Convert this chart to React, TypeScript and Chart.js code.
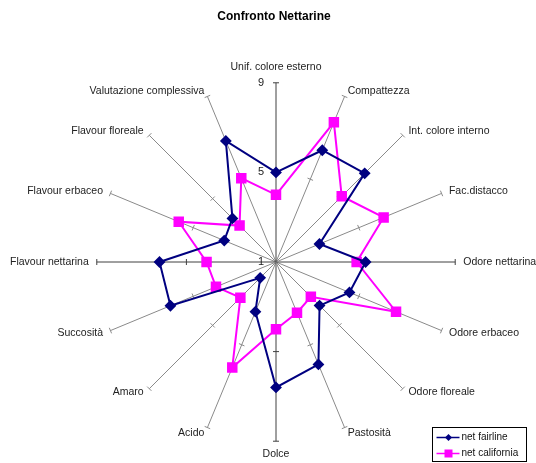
import React, { useEffect, useRef } from "react";
import { Chart, registerables } from "chart.js";

Chart.register(...registerables);

const categories = [
  "Unif. colore esterno",
  "Compattezza",
  "Int. colore interno",
  "Fac.distacco",
  "Odore nettarina",
  "Odore erbaceo",
  "Odore floreale",
  "Pastosità",
  "Dolce",
  "Acido",
  "Amaro",
  "Succosità",
  "Flavour nettarina",
  "Flavour erbaceo",
  "Flavour floreale",
  "Valutazione complessiva",
];

const netFairline = [5.0, 6.4, 6.6, 3.1, 5.0, 4.55, 3.75, 5.95, 6.6, 3.4, 2.0, 6.1, 6.2, 3.5, 3.75, 6.85];
const netCalifornia = [4.0, 7.75, 5.15, 6.2, 4.6, 6.8, 3.2, 3.45, 4.0, 6.1, 3.25, 3.9, 4.1, 5.7, 3.3, 5.05];

const seriesNames = ["net fairline", "net california"];
const tickValues = [1, 5, 9];

const FONT = "'Liberation Sans', Arial, sans-serif";

const decorPlugin = {
  id: "decor",
  afterLayout(chart: any) {
    const scale = chart.scales.r;
    const items = scale._pointLabelItems;
    if (!items) return;
    items.forEach((item: any, i: number) => {
      const a = scale.getIndexAngle(i);
      const end = scale.getPointPositionForValue(i, scale.max);
      const w = item.right - item.left;
      const h = item.bottom - item.top;
      const s = Math.sin(a);
      const c = Math.cos(a);
      let cy: number;
      if (Math.abs(s) < 1e-6) {
        cy = c > 0 ? end.y - 16 : end.y + 13;
      } else {
        cy = end.y - c * 5.5;
      }
      const gap = 8 * Math.abs(s);
      let x = end.x;
      if (item.textAlign === "left") x = end.x + gap;
      else if (item.textAlign === "right") x = end.x - gap;
      item.x = x;
      item.y = cy - h / 2;
      item.top = item.y;
      item.bottom = item.y + h;
      if (item.textAlign === "left") { item.left = x; item.right = x + w; }
      else if (item.textAlign === "right") { item.left = x - w; item.right = x; }
      else { item.left = x - w / 2; item.right = x + w / 2; }
    });
  },
  beforeDatasetsDraw(chart: any) {
    const scale = chart.scales.r;
    const ctx = chart.ctx;
    const n = chart.data.labels.length;
    ctx.save();
    ctx.lineWidth = 1;
    for (let i = 0; i < n; i++) {
      const isMain = i % 4 === 0;
      ctx.strokeStyle = isMain ? "#404040" : "#8a8a8a";
      const ang = scale.getIndexAngle(i) - Math.PI / 2;
      const px = -Math.sin(ang);
      const py = Math.cos(ang);
      for (const v of [5, 9]) {
        const p = scale.getPointPositionForValue(i, v);
        ctx.beginPath();
        ctx.moveTo(p.x - px * 3, p.y - py * 3);
        ctx.lineTo(p.x + px * 3, p.y + py * 3);
        ctx.stroke();
      }
    }
    ctx.fillStyle = "#222";
    ctx.font = `11px ${FONT}`;
    ctx.textAlign = "right";
    ctx.textBaseline = "middle";
    for (const v of tickValues) {
      const p = scale.getPointPositionForValue(0, v);
      ctx.fillText(String(v), p.x - 12, p.y);
    }
    ctx.restore();
  },
  afterDraw(chart: any) {
    const ctx = chart.ctx;
    const ds = chart.data.datasets;
    const x0 = 432.5, y0 = 427.5, w = 94, h = 34;
    ctx.save();
    ctx.fillStyle = "#fff";
    ctx.fillRect(x0, y0, w, h);
    ctx.strokeStyle = "#000";
    ctx.lineWidth = 1;
    ctx.strokeRect(x0, y0, w, h);
    ctx.font = `10px ${FONT}`;
    ctx.textBaseline = "middle";
    ctx.textAlign = "left";
    ds.forEach((d: any, i: number) => {
      const y = y0 + 10 + i * 16;
      ctx.strokeStyle = d.borderColor;
      ctx.lineWidth = 1.5;
      ctx.beginPath();
      ctx.moveTo(x0 + 4, y);
      ctx.lineTo(x0 + 27, y);
      ctx.stroke();
      ctx.fillStyle = d.borderColor;
      const cx = x0 + 16;
      if (d.pointStyle === "rectRot") {
        ctx.beginPath();
        ctx.moveTo(cx - 3.5, y);
        ctx.lineTo(cx, y - 3.5);
        ctx.lineTo(cx + 3.5, y);
        ctx.lineTo(cx, y + 3.5);
        ctx.closePath();
        ctx.fill();
      } else {
        ctx.fillRect(cx - 4, y - 4, 8, 8);
      }
      ctx.fillStyle = "#111";
      ctx.fillText(d.label, x0 + 29, y);
    });
    ctx.restore();
  },
};

export default function App() {
  const ref = useRef<HTMLCanvasElement>(null);
  useEffect(() => {
    if (!ref.current) return;
    const chart = new Chart(ref.current, {
      type: "radar",
      data: {
        labels: categories,
        datasets: [
          {
            label: seriesNames[0],
            data: netFairline,
            borderColor: "#000080",
            backgroundColor: "#000080",
            pointBackgroundColor: "#000080",
            pointBorderColor: "#000080",
            pointStyle: "rectRot",
            pointRadius: 4.5,
            borderWidth: 2,
            fill: false,
          },
          {
            label: seriesNames[1],
            data: netCalifornia,
            borderColor: "#FF00FF",
            backgroundColor: "#FF00FF",
            pointBackgroundColor: "#FF00FF",
            pointBorderColor: "#FF00FF",
            pointStyle: "rect",
            pointRadius: 6,
            borderWidth: 2,
            fill: false,
          },
        ],
      },
      options: {
        responsive: false,
        animation: false,
        layout: { padding: { left: 11, right: -1, top: 0, bottom: 0 } },
        plugins: {
          legend: { display: false },
          tooltip: { enabled: false },
          title: {
            display: true,
            text: "Confronto Nettarine",
            color: "#000",
            font: { family: FONT, size: 12, weight: "bold" },
            padding: { top: 9, bottom: 38 },
          },
        },
        scales: {
          r: {
            min: 1,
            max: 9,
            ticks: { display: false, stepSize: 4 },
            grid: { display: false },
            angleLines: {
              display: true,
              color: (ctx: any) => (ctx.index % 4 === 0 ? "#404040" : "#8a8a8a"),
              lineWidth: 1,
            },
            pointLabels: {
              display: true,
              color: "#222",
              padding: 4,
              font: { family: FONT, size: 10.5 },
            },
          },
        },
      },
      plugins: [decorPlugin],
    });
    return () => chart.destroy();
  }, []);
  return (
    <div style={{ position: "absolute", left: 0, top: 0, width: 536, height: 463, background: "#fff" }}>
      <canvas ref={ref} width={536} height={463} />
    </div>
  );
}
